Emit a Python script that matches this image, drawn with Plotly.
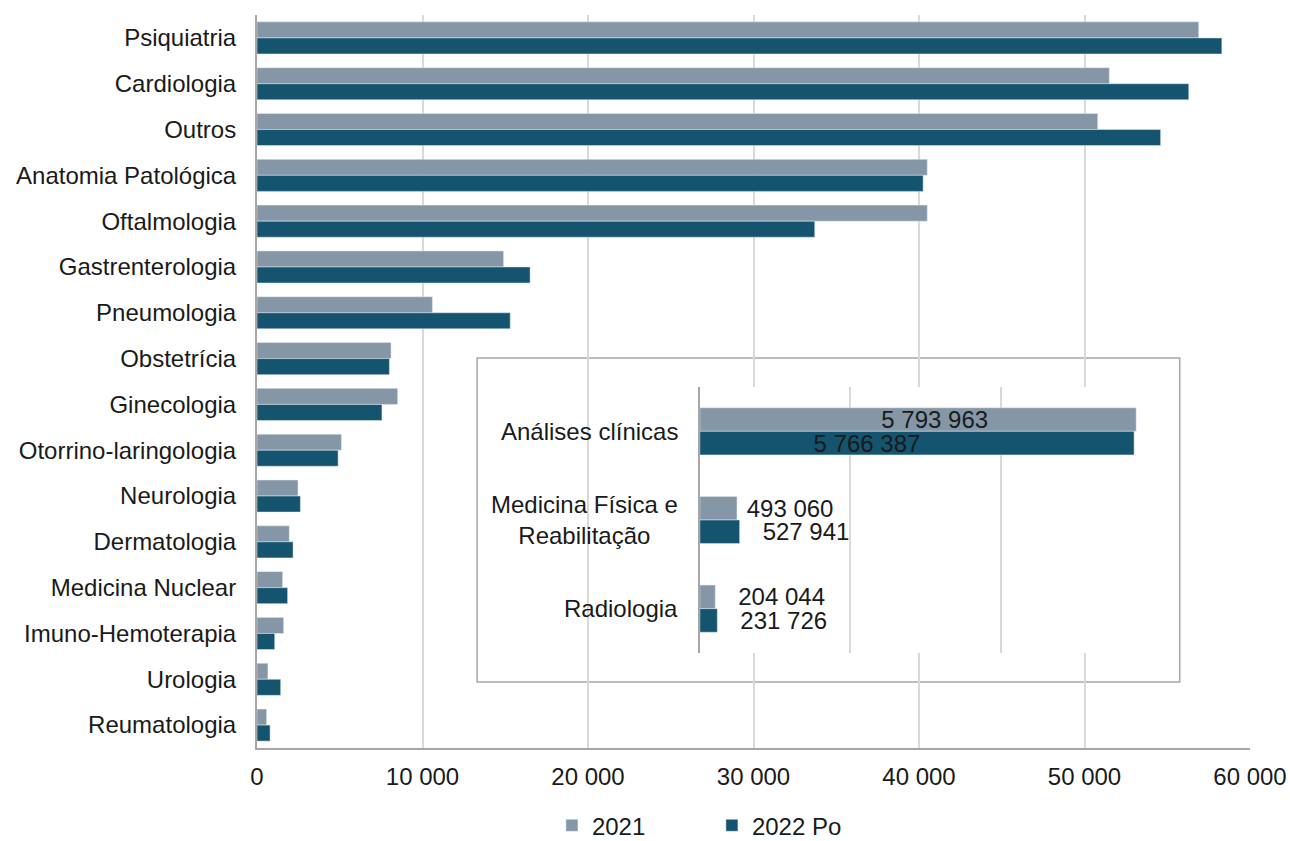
import plotly.graph_objects as go

# main chart data
especialidades = ['Psiquiatria', 'Cardiologia', 'Outros', 'Anatomia Patológica', 'Oftalmologia',
                  'Gastrenterologia', 'Pneumologia', 'Obstetrícia', 'Ginecologia',
                  'Otorrino-laringologia', 'Neurologia', 'Dermatologia', 'Medicina Nuclear',
                  'Imuno-Hemoterapia', 'Urologia', 'Reumatologia']
valores_2021 = [56900, 51500, 50800, 40500, 40500, 14900, 10600, 8100, 8500,
                5100, 2480, 1950, 1550, 1610, 660, 580]
valores_2022 = [58300, 56300, 54600, 40250, 33700, 16500, 15300, 8000, 7550,
                4900, 2620, 2180, 1850, 1070, 1430, 790]

# inset data
especialidades_inset = ['Análises clínicas', 'Medicina Física e<br>Reabilitação', 'Radiologia']
inset_2021 = [5793963, 493060, 204044]
inset_2022 = [5766387, 527941, 231726]

COR_2021 = '#8597A7'
COR_2022 = '#14546F'
FONTE = 'Liberation Sans, Arial, sans-serif'
NB = '\u00a0'

fig = go.Figure()

fig.add_trace(go.Bar(
    y=especialidades, x=valores_2021, name='2021', orientation='h',
    marker=dict(color=COR_2021), xaxis='x', yaxis='y'
))
fig.add_trace(go.Bar(
    y=especialidades, x=valores_2022, name='2022 Po', orientation='h',
    marker=dict(color=COR_2022), xaxis='x', yaxis='y'
))

pos_texto = ['inside', 'outside', 'outside']
fig.add_trace(go.Bar(
    y=especialidades_inset, x=inset_2021, orientation='h', showlegend=False,
    marker=dict(color=COR_2021), xaxis='x2', yaxis='y2',
    width=0.266, offset=-0.266,
    texttemplate=[NB * 5 + '%{x:,}', NB + '%{x:,}', NB * 3 + '%{x:,}'],
    textposition=pos_texto, insidetextanchor='middle', constraintext='none',
    textfont=dict(color='#1a1a1a', size=24), cliponaxis=False
))
fig.add_trace(go.Bar(
    y=especialidades_inset, x=inset_2022, orientation='h', showlegend=False,
    marker=dict(color=COR_2022), xaxis='x2', yaxis='y2',
    width=0.266, offset=0,
    texttemplate=['%{x:,}' + NB * 15, NB * 3 + '%{x:,}', NB * 3 + '%{x:,}'],
    textposition=pos_texto, insidetextanchor='middle', constraintext='none',
    textfont=dict(color='#1a1a1a', size=24), cliponaxis=False
))

# white box behind the inset (drawn in the inset subplot layer, covers main gridlines)
fig.add_shape(
    type='rect', xref='x2 domain', yref='y2 domain',
    x0=-0.493, x1=1.062, y0=-0.109, y1=1.109,
    fillcolor='white', line=dict(color='#A6A6A6', width=1.5), layer='below'
)

# inset category labels (centred lines, like the original)
for cat in especialidades_inset:
    fig.add_annotation(
        x=-0.045, xref='x2 domain', y=cat, yref='y2',
        text=cat, showarrow=False, xanchor='right', align='center',
        font=dict(size=24, color='#1a1a1a')
    )

fig.update_layout(
    width=1290, height=841,
    paper_bgcolor='white', plot_bgcolor='white',
    font=dict(family=FONTE, size=24, color='#1a1a1a'),
    separators=', ',
    barmode='group', bargap=0.3, bargroupgap=0,
    margin=dict(l=257, r=40, t=15, b=93, autoexpand=False),
    xaxis=dict(
        range=[0, 60000], dtick=10000, tickformat=',',
        showgrid=True, gridcolor='#D9D9D9', gridwidth=1.5,
        showline=True, linecolor='#A6A6A6', linewidth=2,
        zeroline=False, ticks='', ticklabelstandoff=6,
        domain=[0, 1], automargin=False
    ),
    yaxis=dict(
        autorange='reversed', showgrid=False,
        showline=True, linecolor='#A6A6A6', linewidth=2,
        ticks='', ticklabelstandoff=14, domain=[0, 1], automargin=False
    ),
    xaxis2=dict(
        range=[0, 6000000], dtick=2000000, showticklabels=False,
        showgrid=True, gridcolor='#D9D9D9', gridwidth=1.5,
        zeroline=False, showline=False, ticks='',
        domain=[0.446, 0.901], anchor='y2', automargin=False
    ),
    yaxis2=dict(
        autorange='reversed', showgrid=False, showticklabels=False,
        showline=True, linecolor='#A6A6A6', linewidth=1.5, ticks='',
        domain=[0.1296, 0.4925], anchor='x2', automargin=False
    ),
    legend=dict(
        orientation='h', x=0.297, xanchor='left', y=-0.106, yanchor='middle',
        font=dict(size=24), traceorder='normal',
        itemwidth=30, entrywidth=115, tracegroupgap=0
    )
)

fig.write_html("out.html", config={'displayModeBar': False},
               post_script="document.body.style.margin='0';")
